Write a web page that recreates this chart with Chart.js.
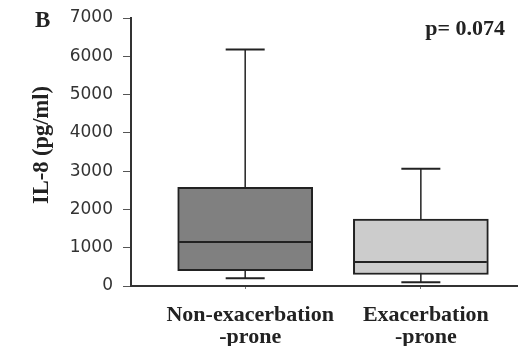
<!DOCTYPE html>
<html>
<head>
<meta charset="utf-8">
<script src="https://cdn.jsdelivr.net/npm/chart.js@4.4.0/dist/chart.umd.min.js"></script>
<style>
  html, body { margin: 0; padding: 0; background: #fff; }
</style>
</head>
<body>
<canvas id="il8Chart" width="518" height="346"></canvas>
<script>
// ═════════════════════════════════════════════════════════════
// DATA (IL-8, pg/ml)
// ═════════════════════════════════════════════════════════════
const categories = [['Non-exacerbation', '-prone'], ['Exacerbation', '-prone']];
const whiskerMin = [200, 100];
const quartile1 = [400, 300];
const medians = [1150, 630];
const quartile3 = [2580, 1750];
const whiskerMax = [6180, 3060];
const yMax = 7000;
const yStep = 500;
const yTitle = 'IL-8 (pg/ml)';
const pValueLabel = 'p= 0.074';
const panelLabel = 'B';

const boxColors = ['#808080', '#cccccc'];
const ink = '#222';
const serif = '"Liberation Serif", "Times New Roman", serif';

// ═════════════════════════════════════════════════════════════
// DATASETS
// ═════════════════════════════════════════════════════════════
const datasets = [];

// whiskers (drawn behind the boxes, caps as 'line' points)
categories.forEach((c, i) => {
    datasets.push({
        type: 'line',
        data: [{ x: i + 1, y: whiskerMin[i] }, { x: i + 1, y: whiskerMax[i] }],
        borderColor: ink,
        borderWidth: 1.5,
        pointStyle: 'line',
        pointRadius: 19.5,
        pointBorderColor: ink,
        pointBorderWidth: 2,
        clip: false,
        order: 3,
    });
});

// boxes q1..q3
datasets.push({
    type: 'bar',
    data: categories.map((c, i) => ({ x: i + 1, y: [quartile1[i], quartile3[i]] })),
    backgroundColor: boxColors,
    borderColor: ink,
    borderWidth: 2,
    borderSkipped: false,
    barThickness: 135,
    grouped: false,
    order: 2,
});

// medians
datasets.push({
    type: 'line',
    data: medians.map((m, i) => ({ x: i + 1, y: m })),
    showLine: false,
    pointStyle: 'line',
    pointRadius: 66,
    pointBorderColor: ink,
    pointBorderWidth: 2,
    clip: false,
    order: 1,
});

// panel letter, y title, p value
const panelText = {
    id: 'panelText',
    afterDraw(chart) {
        const { ctx } = chart;
        ctx.save();
        ctx.fillStyle = ink;
        ctx.textBaseline = 'alphabetic';
        ctx.font = 'bold 23px ' + serif;
        ctx.textAlign = 'left';
        ctx.fillText(panelLabel, 35, 26.5);
        ctx.font = 'bold 22px ' + serif;
        ctx.textAlign = 'right';
        ctx.fillText(pValueLabel, 505, 35);

        ctx.translate(42.5, 145);
        ctx.rotate(-Math.PI / 2);
        ctx.textAlign = 'center';
        ctx.textBaseline = 'middle';
        ctx.font = 'bold 22.5px ' + serif;
        ctx.fillText(yTitle, 0, 0);
        ctx.restore();
    }
};

// no automatic label padding, the axes sit where the figure has them
const noPad = (s) => {
    s.paddingLeft = 0;
    s.paddingRight = 0;
    s.paddingTop = 0;
    s.paddingBottom = 0;
};

new Chart(document.getElementById('il8Chart').getContext('2d'), {
    type: 'bar',
    data: { datasets },
    plugins: [panelText],
    options: {
        responsive: false,
        animation: false,
        events: [],
        layout: { autoPadding: false, padding: { top: 18, right: 0, left: 0, bottom: 0 } },
        plugins: {
            legend: { display: false },
            tooltip: { enabled: false },
        },
        scales: {
            x: {
                type: 'linear',
                min: 0.35,
                max: 2.553,
                offset: false,
                afterFit: (s) => { s.height = 60; noPad(s); },
                afterBuildTicks: (s) => { s.ticks = categories.map((c, i) => ({ value: i + 1 })); },
                ticks: {
                    color: ink,
                    padding: 15,
                    labelOffset: 5,
                    maxRotation: 0,
                    autoSkip: false,
                    font: { family: serif, size: 22, weight: 'bold', lineHeight: 1.0 },
                    callback: (v) => categories[v - 1],
                },
                grid: { offset: false, drawOnChartArea: false, tickLength: 3, tickColor: '#777' },
                border: { display: true, color: '#333', width: 2 },
            },
            y: {
                min: 0,
                max: yMax,
                afterFit: (s) => { s.width = 131; noPad(s); },
                ticks: {
                    stepSize: yStep,
                    padding: 10,
                    color: '#333',
                    font: { family: '"DejaVu Sans", sans-serif', size: 17 },
                    callback: (v) => (v % 1000 === 0 ? v : ''),
                },
                grid: {
                    drawOnChartArea: false,
                    tickLength: 8,
                    tickColor: (ctx) => (ctx.tick && ctx.tick.value % 1000 === 0 ? '#555' : '#999'),
                },
                border: { display: true, color: '#333', width: 2 },
            },
        },
    },
});
</script>
</body>
</html>
